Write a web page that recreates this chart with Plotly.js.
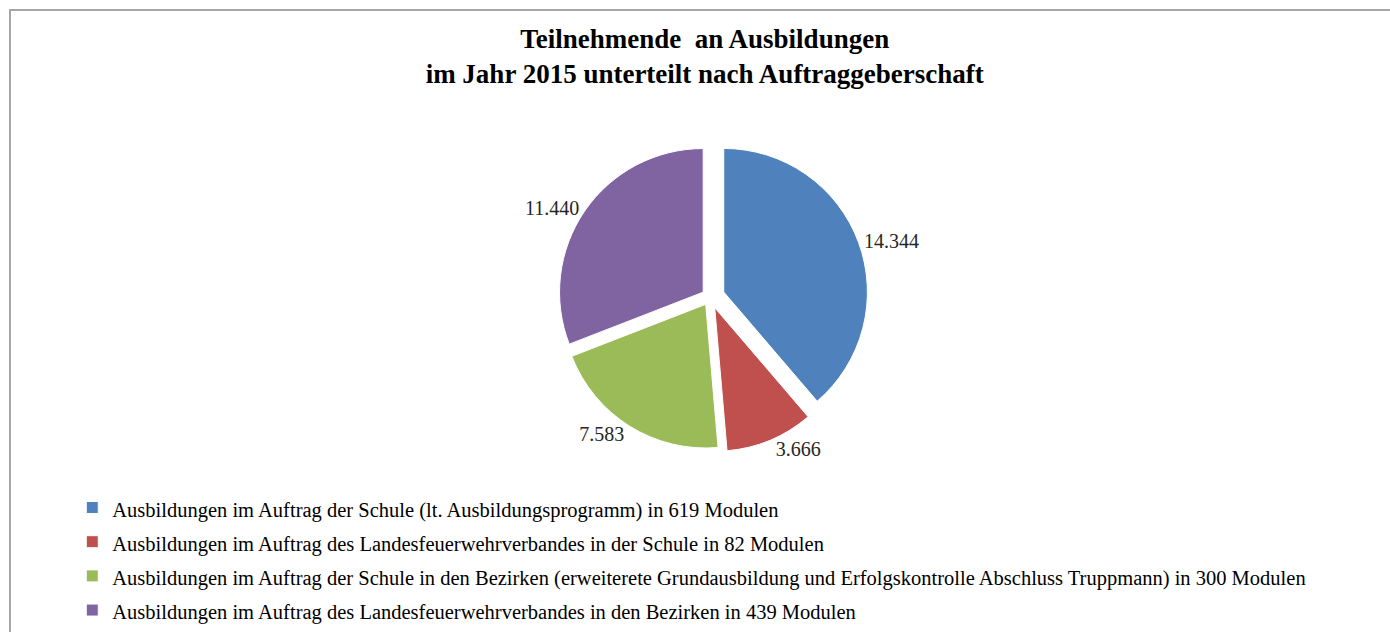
<!DOCTYPE html>
<html>
<head>
<meta charset="utf-8">
<script src="https://cdn.plot.ly/plotly-3.0.1.min.js"></script>
<style>
  html, body { margin: 0; padding: 0; background: #fff; }
  #wrap { position: relative; width: 1390px; height: 632px; overflow: hidden; }
  #frame { position: absolute; left: 9px; top: 9px; width: 1400px; height: 640px;
           border-left: 2px solid #a6a6a6; border-top: 2px solid #a6a6a6; box-sizing: border-box; pointer-events: none; }
  #chart { position: absolute; left: 0; top: 0; width: 1390px; height: 632px; }
</style>
</head>
<body>
<div id="wrap">
  <div id="chart"></div>
  <div id="frame"></div>
</div>
<script>
const labels = [
  "Ausbildungen im Auftrag der Schule (lt. Ausbildungsprogramm) in 619 Modulen",
  "Ausbildungen im Auftrag des Landesfeuerwehrverbandes in der Schule in 82 Modulen",
  "Ausbildungen im Auftrag der Schule in den Bezirken (erweiterete Grundausbildung und Erfolgskontrolle Abschluss Truppmann) in 300 Modulen",
  "Ausbildungen im Auftrag des Landesfeuerwehrverbandes in den Bezirken in 439 Modulen"
];
const values = [14344, 3666, 7583, 11440];
const colors = ["#4F81BD", "#C0504D", "#9BBB59", "#8064A2"];
const pulls = [0.1, 0.08, 0.06, 0.06];

const legendLabels = labels.map(l => '<span style="font-size:20.5px">' + l + '</span>');

const trace = {
  type: 'pie',
  labels: legendLabels,
  values: values,
  sort: false,
  direction: 'clockwise',
  rotation: 0,
  pull: pulls,
  marker: { colors: colors, line: { color: '#ffffff', width: 1 } },
  textposition: 'outside',
  texttemplate: '%{value:,}',
  textfont: { family: 'Liberation Serif, serif', size: 20, color: '#262626' },
  outsidetextfont: { family: 'Liberation Serif, serif', size: 20, color: '#262626' },
  domain: { x: [0.311, 0.711], y: [0.28, 0.78] },
  hoverinfo: 'value+percent',
  showlegend: true
};

const layout = {
  width: 1390,
  height: 632,
  margin: { l: 0, r: 0, t: 0, b: 0, autoexpand: false },
  paper_bgcolor: '#ffffff',
  separators: ',.',
  font: { family: 'Liberation Serif, serif', color: '#000' },
  title: {
    text: '<b>Teilnehmende  an Ausbildungen<br>im Jahr 2015 unterteilt nach Auftraggeberschaft</b>',
    font: { family: 'Liberation Serif, serif', size: 27, color: '#000' },
    x: 0.507, xref: 'container', xanchor: 'center',
    y: 0.924, yref: 'container', yanchor: 'middle'
  },
  legend: {
    x: 0.052, xanchor: 'left', xref: 'paper',
    y: 0.232, yanchor: 'top', yref: 'paper',
    font: { family: 'Liberation Serif, serif', size: 24, color: '#000' },
    bgcolor: 'rgba(0,0,0,0)',
    traceorder: 'normal'
  }
};

Plotly.newPlot('chart', [trace], layout, { displayModeBar: false, staticPlot: true });
</script>
</body>
</html>
